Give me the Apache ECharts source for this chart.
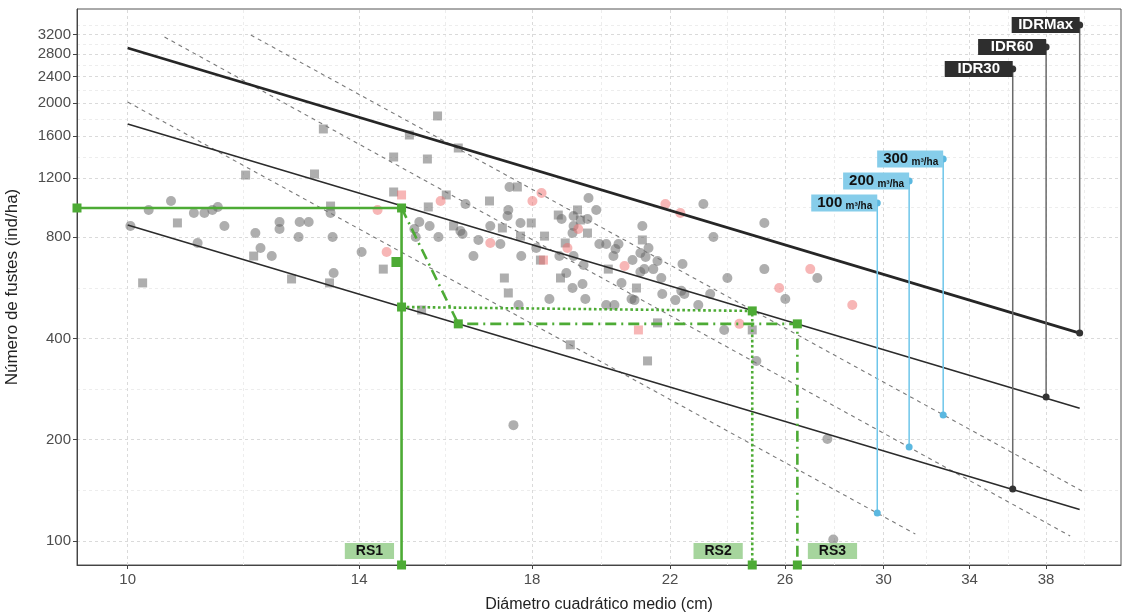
<!DOCTYPE html>
<html><head><meta charset="utf-8">
<script src="https://cdn.jsdelivr.net/npm/echarts@6/dist/echarts.min.js"></script>
<style>html,body{margin:0;padding:0;background:#fff}#c{width:1123px;height:614px}</style>
</head><body><div id="c"></div>
<script>
// ---------- DATA ----------
const xTicks = [10, 14, 18, 22, 26, 30, 34, 38];
const yTicks = [100, 200, 400, 800, 1200, 1600, 2000, 2400, 2800, 3200];
const xMinor = [11.83, 15.87, 19.90, 23.92, 27.93, 31.94, 35.94, 40.17];
const yMinor = [141.4, 282.8, 565.7, 979.8, 1385.6, 1788.9, 2190.9, 2592.3, 2993.3, 3421];
const xRange = [9.29, 42.37];
const yRange = [84.85, 3814];

const grayCircles = [[10.04,864],[10.31,964],[10.65,1025],[11.01,944],[11.18,944],[11.31,964],[11.40,984],[11.51,864],[12.04,823],[12.47,888],[12.47,846],[12.84,888],[13.01,888],[12.82,801],[13.47,801],[13.43,944],[11.07,769],[12.13,743],[12.33,703],[14.05,723],[13.49,626],[15.17,846],[15.28,888],[15.51,864],[15.20,801],[15.71,801],[16.22,835],[16.27,818],[16.34,1004],[16.65,785],[16.53,703],[16.94,864],[17.19,764],[17.42,1128],[17.39,964],[17.37,925],[17.70,882],[17.72,703],[18.11,743],[19.12,925],[18.79,906],[19.51,906],[19.54,1046],[19.76,964],[19.12,864],[19.09,823],[18.73,703],[19.12,703],[18.92,626],[19.09,565],[19.37,581],[19.40,661],[18.46,524],[17.65,503],[19.45,524],[19.85,764],[20.05,764],[20.41,764],[20.32,738],[20.26,703],[21.07,718],[21.32,743],[21.23,699],[20.83,684],[21.60,680],[21.13,864],[21.07,630],[21.47,643],[21.19,643],[21.72,605],[22.40,666],[20.50,585],[21.75,542],[22.17,520],[22.46,542],[22.36,554],[22.92,503],[23.32,542],[20.80,524],[20.89,520],[20.05,503],[20.29,503],[23.09,1004],[23.43,801],[25.23,882],[25.23,643],[23.91,605],[26.01,524],[27.25,605],[23.80,424],[24.94,343],[17.52,221],[27.65,201],[27.89,101]];
const graySquares = [[10.22,585],[10.75,882],[11.87,1224],[12.01,703],[12.69,601],[13.12,1233],[13.29,1678],[13.41,585],[13.43,990],[14.50,643],[14.72,1385],[14.72,1090],[15.06,1610],[15.46,1366],[15.48,984],[15.69,1834],[15.89,1068],[16.06,864],[16.17,1473],[15.33,486],[16.92,1025],[17.24,852],[17.62,1128],[17.98,882],[17.70,806],[18.33,806],[18.70,931],[19.23,964],[19.31,900],[19.51,823],[18.89,769],[18.22,684],[17.29,605],[18.76,605],[17.39,546],[20.11,643],[20.95,565],[21.13,785],[19.03,383],[21.29,343],[21.60,445],[24.79,424]];
const pinkCircles = [[14.38,964],[14.57,723],[15.76,1025],[18.01,1025],[18.25,1083],[16.94,769],[18.95,743],[19.25,846],[20.59,657],[21.85,1004],[22.33,944],[24.33,442],[25.78,565],[26.97,643],[28.67,503]];
const pinkSquares = [[14.89,1068],[18.30,684],[21.01,424]];

// Density index lines (IDR)
const idrMax = [[10, 2920], [39.9, 415]];
const idr60 = [[10, 1736], [39.9, 248]];
const idr30 = [[10, 870], [39.9, 124]];
// Volume isolines
const iso100 = [[10, 2018], [31.42, 104.9]];
const iso200 = [[10.55, 3149], [39.35, 103.5]];
const iso300 = [[11.96, 3192], [40.04, 140.8]];

// IDR markers: name, diameter, N on line, N of label anchor
const idrNames = ['IDRMax', 'IDR60', 'IDR30'];
const idrD = [39.9, 38.0, 36.2];
const idrLow = [415, 268, 142.8];
const idrHigh = [3419, 2941, 2530];
// Volume markers
const volNames = ['100', '200', '300'];
const volD = [29.73, 31.14, 32.72];
const volLow = [121.1, 190.3, 236.9];
const volHigh = [1011, 1175, 1366];

// Green management routes
const rs1Path = [[9.29, 977], [14.89, 977], [14.89, 84.85]];
const rs1Nodes = [[9.29, 977], [14.89, 977], [14.89, 496], [14.89, 84.85]];
const rs2Path = [[14.89, 496], [24.79, 483], [24.79, 84.85]];
const rs2Nodes = [[24.79, 483], [24.79, 84.85]];
const rs3Path = [[14.89, 977], [16.17, 442], [26.47, 442], [26.47, 84.85]];
const rs3Nodes = [[16.17, 442], [26.47, 442], [26.47, 84.85]];
const greenExtra = [[14.78, 675]];
const rsNames = ['RS1', 'RS2', 'RS3'];
const rsD = [14.89, 24.79, 26.47];
const rsN = 93.4;

// ---------- CHART ----------
const L = Math.log10;
const tr = a => a.map(p => [L(p[0]), L(p[1])]);
const FONT = "'Liberation Sans', Arial, sans-serif";
const GREEN = '#4DAB35';

function gridLines(vals, vertical, color, dash) {
  return {
    type: 'lines', coordinateSystem: 'cartesian2d', silent: true, z: 0,
    lineStyle: { color: color, width: 1, type: dash, opacity: 1 },
    data: vals.map(v => ({ coords: vertical
      ? [[L(v), L(yRange[0])], [L(v), L(yRange[1])]]
      : [[L(xRange[0]), L(v)], [L(xRange[1]), L(v)]] }))
  };
}
function line(data, color, width, type, z) {
  return { type: 'line', data: tr(data), symbol: 'none', silent: true, z: z || 3,
    lineStyle: { color: color, width: width, type: type || 'solid' } };
}
function scatter(data, symbol, size, color, z) {
  return { type: 'scatter', data: tr(data), symbol: symbol, symbolSize: size, silent: true, z: z || 2,
    itemStyle: { color: color, opacity: 1 } };
}

const series = [
  gridLines(xMinor, true, '#ededed', [3, 3]),
  gridLines(yMinor, false, '#ededed', [3, 3]),
  gridLines(xTicks, true, '#dadada', [3, 3]),
  gridLines(yTicks, false, '#dadada', [3, 3]),
  scatter(graySquares, 'rect', 9, 'rgba(100,100,100,0.52)'),
  scatter(grayCircles, 'circle', 10, 'rgba(100,100,100,0.52)'),
  scatter(pinkSquares, 'rect', 9, 'rgba(240,110,110,0.5)'),
  scatter(pinkCircles, 'circle', 10, 'rgba(240,110,110,0.5)'),
  line(iso100, '#7a7a7a', 1.1, [4, 4]),
  line(iso200, '#7a7a7a', 1.1, [4, 4]),
  line(iso300, '#7a7a7a', 1.1, [4, 4]),
  line(idrMax, '#262626', 2.8),
  line(idr60, '#2b2b2b', 1.6),
  line(idr30, '#2b2b2b', 1.6)
];
// IDR connectors
idrNames.forEach((n, i) => {
  series.push(line([[idrD[i], idrLow[i]], [idrD[i], idrHigh[i]]], '#6a6a6a', 1.5, 'solid', 4));
});
volNames.forEach((n, i) => {
  series.push(line([[volD[i], volLow[i]], [volD[i], volHigh[i]]], '#6EC6EA', 1.5, 'solid', 4));
});
series.push(scatter(idrNames.map((n, i) => [idrD[i], idrLow[i]]), 'circle', 7, '#333', 5));
series.push(scatter(volNames.map((n, i) => [volD[i], volLow[i]]), 'circle', 7, '#5BB8E0', 5));
// IDR labels
series.push({
  type: 'scatter', silent: true, z: 6, symbol: 'circle', symbolSize: 7,
  itemStyle: { color: '#333', opacity: 1 },
  data: idrNames.map((n, i) => ({ value: [L(idrD[i]), L(idrHigh[i])], name: n })),
  label: { show: true, position: 'left', distance: 0, offset: [3.5, 0],
    formatter: p => '{t|' + p.name + '}',
    backgroundColor: '#2E2E2E', padding: [0, 4],
    rich: { t: { width: 60, align: 'center', color: '#fff', fontWeight: 'bold', fontSize: 15,
      lineHeight: 16, fontFamily: FONT } } }
});
series.push({
  type: 'scatter', silent: true, z: 6, symbol: 'circle', symbolSize: 7,
  itemStyle: { color: '#5BB8E0', opacity: 1 },
  data: volNames.map((n, i) => ({ value: [L(volD[i]), L(volHigh[i])], name: n })),
  label: { show: true, position: 'left', distance: 0, offset: [3.5, 0],
    formatter: p => '{n|' + p.name + '} {u|m³/ha}',
    backgroundColor: '#86CDEA', padding: [0, 5, 0, 6],
    rich: { n: { color: '#111', fontWeight: 'bold', fontSize: 15, lineHeight: 17, fontFamily: FONT },
            u: { color: '#111', fontWeight: 'bold', fontSize: 10, lineHeight: 17, fontFamily: FONT, verticalAlign: 'bottom' } } }
});
// Green routes
series.push(line(rs1Path, GREEN, 2.6, 'solid', 7));
series.push(line(rs2Path, GREEN, 2.6, 'dotted', 7));
series.push(line(rs3Path, GREEN, 2.6, [11, 5, 2, 5], 7));
series.push(scatter(rs1Nodes.concat(rs2Nodes, rs3Nodes), 'rect', 9, GREEN, 8));
series.push(scatter(greenExtra, 'rect', [10, 10], GREEN, 8));
// RS labels
series.push({
  type: 'scatter', silent: true, z: 9, symbolSize: 1, itemStyle: { color: 'transparent', opacity: 1 },
  data: rsNames.map((n, i) => ({ value: [L(rsD[i]), L(rsN)], name: n,
    label: { position: i === 2 ? 'right' : 'left', distance: i === 0 ? 7 : (i === 1 ? 9 : 10) } })),
  label: { show: true, formatter: p => p.name, backgroundColor: '#A6D59D', color: '#111',
    fontWeight: 'bold', fontSize: 14, fontFamily: FONT, padding: [1, 11, 0, 11], lineHeight: 15 }
});

const option = {
  animation: false,
  backgroundColor: '#fff',
  grid: { left: 77, right: 2, top: 9, bottom: 49, show: true, borderColor: '#555', borderWidth: 1,
    containLabel: false, outerBoundsMode: 'none' },
  xAxis: {
    type: 'value', min: L(xRange[0]), max: L(xRange[1]),
    name: 'Diámetro cuadrático medio (cm)', nameLocation: 'middle', nameGap: 32,
    nameTextStyle: { fontSize: 16, color: '#222', fontFamily: FONT },
    splitLine: { show: false },
    axisLine: { show: true, lineStyle: { color: '#444' } },
    axisTick: { show: true, customValues: xTicks.map(L), length: 4, lineStyle: { color: '#444' } },
    axisLabel: { customValues: xTicks.map(L), formatter: v => String(Math.round(Math.pow(10, v))),
      fontSize: 15, color: '#4D4D4D', margin: 7, fontFamily: FONT }
  },
  yAxis: {
    type: 'value', min: L(yRange[0]), max: L(yRange[1]),
    name: 'Número de fustes (ind/ha)', nameLocation: 'middle', nameGap: 56, nameRotate: 90,
    nameTextStyle: { fontSize: 17, color: '#222', fontFamily: FONT },
    splitLine: { show: false },
    axisLine: { show: true, lineStyle: { color: '#444' } },
    axisTick: { show: true, customValues: yTicks.map(L), length: 4, lineStyle: { color: '#444' } },
    axisLabel: { customValues: yTicks.map(L), formatter: v => String(Math.round(Math.pow(10, v))),
      fontSize: 15, color: '#4D4D4D', margin: 6, fontFamily: FONT }
  },
  series: series
};
const chart = echarts.init(document.getElementById('c'), null, { renderer: 'canvas' });
chart.setOption(option);
</script></body></html>
